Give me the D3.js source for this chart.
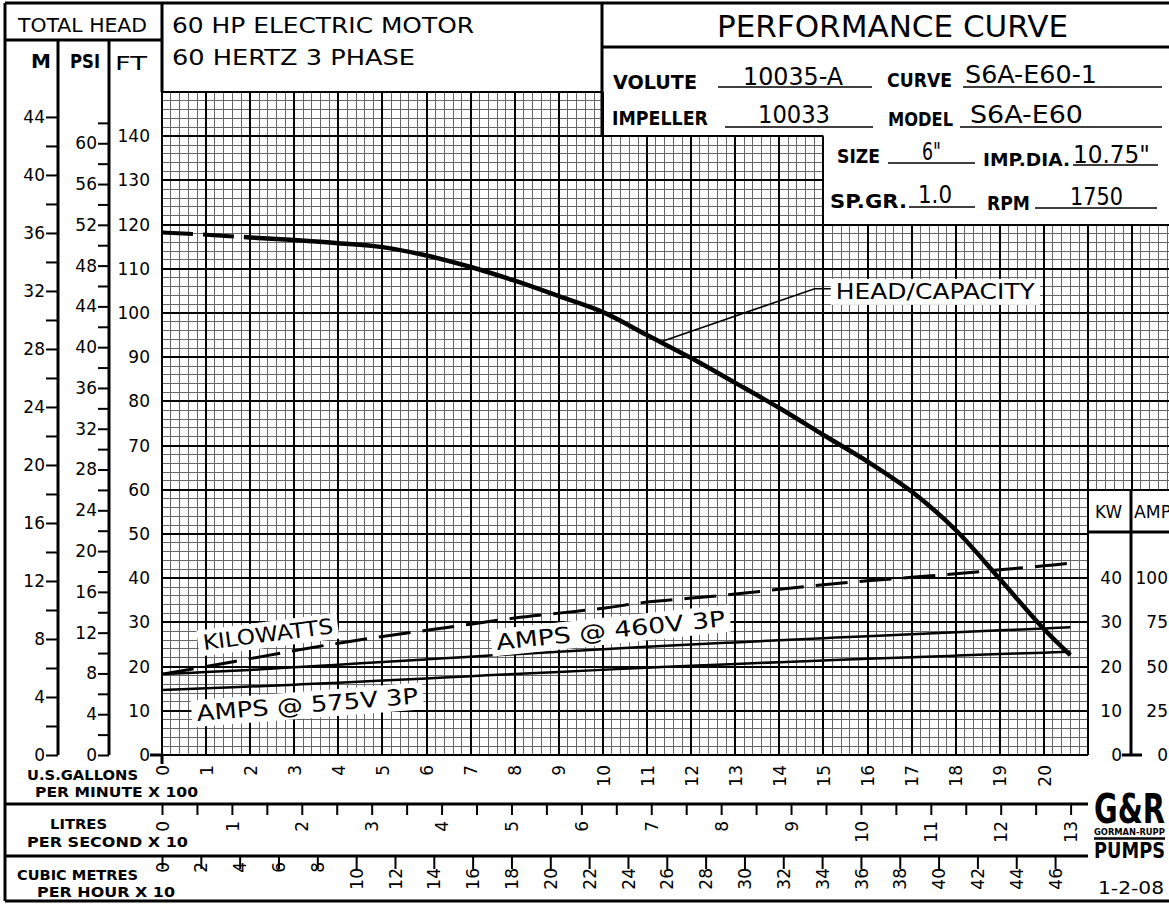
<!DOCTYPE html>
<html>
<head>
<meta charset="utf-8">
<script src="https://cdn.jsdelivr.net/npm/d3@7"></script>
<style>
body { margin: 0; background: #fff; }
text { font-family: "DejaVu Sans", sans-serif; fill: #000; }
</style>
</head>
<body>
<div id="chart"></div>
<script>
// page size
var svgWidth = 1169;
var svgHeight = 905;

// ---- data ----
// flow in hundreds of US gallons per minute
var flow = [0, 1, 2, 3, 4, 5, 6, 7, 8, 9, 10, 11, 12, 13, 14, 15, 16, 17, 18, 19, 20, 20.6];
// total head, feet
var headFt = [118.2, 117.7, 117.1, 116.5, 115.8, 114.9, 113.0, 110.4, 107.3, 103.8, 100.2,
              95.0, 89.8, 84.2, 78.5, 72.4, 66.4, 59.6, 50.9, 39.8, 28.5, 22.6];
// kilowatts
var kw = [18.3, 20.0, 21.8, 23.6, 25.3, 26.8, 28.2, 29.6, 31.0, 32.1, 33.2,
          34.6, 35.5, 36.4, 37.5, 38.5, 39.4, 40.2, 41.0, 41.9, 42.8, 43.4];
// amps
var amps460 = [45.8, 46.9, 48.1, 49.6, 51.1, 52.6, 54.1, 55.6, 57.0, 58.4, 59.8,
               61.2, 62.5, 63.7, 64.9, 66.1, 67.2, 68.3, 69.4, 70.5, 71.6, 72.3];
var amps575 = [36.8, 37.7, 38.7, 39.8, 40.9, 42.1, 43.3, 44.6, 45.8, 47.0, 48.2,
               49.4, 50.5, 51.5, 52.5, 53.5, 54.4, 55.3, 56.2, 57.1, 57.9, 58.4];

// tick values
var mTicks = d3.range(0, 45, 2);
var psiTicks = d3.range(0, 63, 2);
var ftTicks = d3.range(0, 141, 10);
var kwTicks = [0, 10, 20, 30, 40];
var ampTicks = [0, 25, 50, 75, 100];
var gpmTicks = d3.range(0, 21, 1);
var lpsTicks = d3.range(0, 13.01, 0.5);
var cmhTicks = d3.range(0, 47, 2);

// grid blocks [flow from, flow to, ft from, ft to]
var gridBlocks = [[0, 10, 0, 150], [10, 15, 0, 140], [15, 21, 0, 120], [21, 23, 60, 120]];

// ---- scales ----
var xFlow = d3.scaleLinear().domain([0, 21]).range([162, 1088]);
var yFt = d3.scaleLinear().domain([0, 150]).range([755, 92]);
var yM = d3.scaleLinear().domain([0, 150 / 3.2808]).range([755, 92]);
var yPsi = d3.scaleLinear().domain([0, 150 / 2.3067]).range([755, 92]);
var yKw = d3.scaleLinear().domain([0, 150]).range([755, 92]);
var yAmp = d3.scaleLinear().domain([0, 375]).range([755, 92]);
var xLps = d3.scaleLinear().domain([0, 2100 / 158.503]).range([162, 1088]);
var xCmh = d3.scaleLinear().domain([0, 2100 / 44.029]).range([162, 1088]);

var svg = d3.select("#chart").append("svg")
    .attr("width", svgWidth).attr("height", svgHeight);
svg.append("rect").attr("width", svgWidth).attr("height", svgHeight).attr("fill", "#fff");

// ---- grid paper ----
var gridG = svg.append("g");
function snap(v, major) { return major ? Math.round(v) : Math.round(v - 0.5) + 0.5; }
function gridLines(major) {
    gridBlocks.forEach(function(b) {
        var x0 = xFlow(b[0]), x1 = Math.min(xFlow(b[1]), svgWidth + 2);
        var y0 = yFt(b[3]), y1 = yFt(b[2]);
        for (var i = Math.ceil(b[0] * 5); i <= b[1] * 5; i++) {
            if ((i % 5 === 0) !== major) continue;
            var x = snap(xFlow(i / 5), major);
            if (x > svgWidth + 2) continue;
            gridG.append("line").attr("x1", x).attr("x2", x).attr("y1", y0).attr("y2", y1)
                .attr("stroke", major ? "#000" : "#666").attr("stroke-width", major ? 2 : 1);
        }
        for (var f = b[2]; f <= b[3]; f += 2) {
            if ((f % 10 === 0) !== major) continue;
            var y = snap(yFt(f), major);
            gridG.append("line").attr("x1", x0).attr("x2", x1).attr("y1", y).attr("y2", y)
                .attr("stroke", major ? "#000" : "#666").attr("stroke-width", major ? 2 : 1);
        }
    });
}
gridLines(false);
gridLines(true);

// ---- frame lines ----
var frame = [
    [5, 3, 1169, 3], [5, 3, 5, 901], [5, 901, 1169, 901],
    [5, 40, 162, 40], [58, 40, 58, 755], [109, 40, 109, 755], [162, 3, 162, 92],
    [602, 3, 602, 136], [602, 47, 1169, 47],
    [5, 804, 1088, 804], [5, 856, 1088, 856],
    [1088, 532, 1169, 532], [1131, 490, 1131, 755], [1122, 755, 1142, 755],
    [150, 755, 162, 755], [162, 755, 162, 764]
];
svg.append("g").selectAll("line").data(frame).enter().append("line")
    .attr("x1", d => d[0]).attr("y1", d => d[1]).attr("x2", d => d[2]).attr("y2", d => d[3])
    .attr("stroke", "#000").attr("stroke-width", 3);

// ---- axes ----
function styleAxis(g, size) {
    g.select(".domain").remove();
    g.selectAll(".tick line").attr("stroke", "#000").attr("stroke-width", 2);
    g.selectAll("text").attr("font-size", size).attr("font-family", "DejaVu Sans").attr("fill", "#000");
    g.attr("font-family", null);
}
var every4 = d => (d % 4 === 0 ? d : "");

var mAxis = svg.append("g").attr("transform", "translate(58,0)")
    .call(d3.axisLeft(yM).tickValues(mTicks).tickSize(12).tickPadding(1).tickFormat(every4));
styleAxis(mAxis, 17);
var psiAxis = svg.append("g").attr("transform", "translate(109,0)")
    .call(d3.axisLeft(yPsi).tickValues(psiTicks).tickSize(11).tickPadding(1).tickFormat(every4));
styleAxis(psiAxis, 17);
var ftAxis = svg.append("g").attr("transform", "translate(162,0)")
    .call(d3.axisLeft(yFt).tickValues(ftTicks).tickSize(0).tickPadding(12));
styleAxis(ftAxis, 17);
var kwAxis = svg.append("g").attr("transform", "translate(1131,0)")
    .call(d3.axisLeft(yKw).tickValues(kwTicks).tickSize(0).tickPadding(9));
styleAxis(kwAxis, 17);
var ampAxis = svg.append("g").attr("transform", "translate(1169,0)")
    .call(d3.axisLeft(yAmp).tickValues(ampTicks).tickSize(0).tickPadding(1));
styleAxis(ampAxis, 17);

function rotateLabels(g, offset) {
    g.selectAll("text")
        .attr("transform", "rotate(-90)")
        .attr("y", 0).attr("dy", "0.36em")
        .attr("x", d => -offset(d))
        .style("text-anchor", "end");
}
var gpmAxis = svg.append("g").attr("transform", "translate(0,755)")
    .call(d3.axisBottom(xFlow).tickValues(gpmTicks).tickSize(0));
styleAxis(gpmAxis, 17);
rotateLabels(gpmAxis, d => 10);

var lpsAxis = svg.append("g").attr("transform", "translate(0,804)")
    .call(d3.axisBottom(xLps).tickValues(lpsTicks).tickSize(11)
        .tickFormat(d => (d % 1 === 0 ? d : "")));
styleAxis(lpsAxis, 17);
rotateLabels(lpsAxis, d => 17);

var cmhAxis = svg.append("g").attr("transform", "translate(0,856)")
    .call(d3.axisBottom(xCmh).tickValues(cmhTicks).tickSize(13));
styleAxis(cmhAxis, 17);
rotateLabels(cmhAxis, d => (d < 10 ? 6 : 12));

// ---- curves ----
var defs = svg.append("defs");
var splitX = xFlow(1.86);
defs.append("clipPath").attr("id", "clipDash").append("rect")
    .attr("x", 0).attr("y", 0).attr("width", splitX).attr("height", svgHeight);
defs.append("clipPath").attr("id", "clipSolid").append("rect")
    .attr("x", splitX).attr("y", 0).attr("width", svgWidth).attr("height", svgHeight);

function series(vals) { return flow.map((g, i) => ({ g: g, v: vals[i] })); }
var smooth = d3.curveCatmullRom.alpha(0.5);
var headLine = d3.line().x(d => xFlow(d.g)).y(d => yFt(d.v)).curve(smooth);
var kwLine = d3.line().x(d => xFlow(d.g)).y(d => yKw(d.v)).curve(smooth);
var ampLine = d3.line().x(d => xFlow(d.g)).y(d => yAmp(d.v)).curve(smooth);

svg.append("path").attr("d", headLine(series(headFt))).attr("clip-path", "url(#clipDash)")
    .attr("fill", "none").attr("stroke", "#000").attr("stroke-width", 4).attr("stroke-dasharray", "31,10");
svg.append("path").attr("d", headLine(series(headFt))).attr("clip-path", "url(#clipSolid)")
    .attr("fill", "none").attr("stroke", "#000").attr("stroke-width", 4.5);
svg.append("path").attr("d", kwLine(series(kw)))
    .attr("fill", "none").attr("stroke", "#000").attr("stroke-width", 3).attr("stroke-dasharray", "32,12");
svg.append("path").attr("d", ampLine(series(amps460)))
    .attr("fill", "none").attr("stroke", "#000").attr("stroke-width", 2.5);
svg.append("path").attr("d", ampLine(series(amps575)))
    .attr("fill", "none").attr("stroke", "#000").attr("stroke-width", 2.5);

// leader for HEAD/CAPACITY
var leadG = 11.3;
var leadFt = d3.scaleLinear().domain(flow).range(headFt)(leadG);
svg.append("polyline")
    .attr("points", [[xFlow(leadG), yFt(leadFt)], [xFlow(14.8), yFt(105.5)], [xFlow(15.3), yFt(105.5)]].join(" "))
    .attr("fill", "none").attr("stroke", "#000").attr("stroke-width", 1.6);

// curve labels with white boxes
function boxLabel(txt, g, ft, angle, size, len) {
    var grp = svg.append("g")
        .attr("transform", "translate(" + xFlow(g) + "," + yFt(ft) + ") rotate(" + angle + ")");
    var rect = grp.append("rect").attr("fill", "#fff");
    var t = grp.append("text").text(txt).attr("font-size", size)
        .attr("textLength", len).attr("lengthAdjust", "spacingAndGlyphs");
    var bb = t.node().getBBox();
    rect.attr("x", bb.x - 5).attr("y", bb.y - 1).attr("width", bb.width + 10).attr("height", bb.height + 2);
}
boxLabel("HEAD/CAPACITY", 15.28, 103.2, 0, 21, 199);
boxLabel("KILOWATTS", 0.95, 23.75, -7.4, 21, 131);
boxLabel("AMPS @ 460V 3P", 7.6, 23.75, -6, 22, 230);
boxLabel("AMPS @ 575V 3P", 0.8, 7.7, -4.5, 22, 222);

// ---- header and legend texts ----
var texts = [
    { t: "TOTAL HEAD", x: 18, y: 32, s: 20, len: 129 },
    { t: "M", x: 31, y: 68, s: 20, b: 1 },
    { t: "PSI", x: 70, y: 68, s: 20, b: 1, len: 30 },
    { t: "FT", x: 115, y: 70, s: 20, len: 32 },
    { t: "60 HP ELECTRIC MOTOR", x: 172, y: 33, s: 22, len: 302 },
    { t: "60 HERTZ 3 PHASE", x: 172, y: 65, s: 22, len: 243 },
    { t: "PERFORMANCE CURVE", x: 717, y: 37, s: 30, len: 351 },
    { t: "VOLUTE", x: 613, y: 89, s: 19, b: 1, len: 84 },
    { t: "10035-A", x: 743, y: 85, s: 24, len: 100 },
    { t: "CURVE", x: 887, y: 87, s: 19, b: 1, len: 65 },
    { t: "S6A-E60-1", x: 965, y: 83, s: 24, len: 132 },
    { t: "IMPELLER", x: 612, y: 125, s: 19, b: 1, len: 96 },
    { t: "10033", x: 758, y: 123, s: 24, len: 72 },
    { t: "MODEL", x: 888, y: 126, s: 19, b: 1, len: 65 },
    { t: "S6A-E60", x: 970, y: 123, s: 24, len: 113 },
    { t: "SIZE", x: 837, y: 163, s: 19, b: 1, len: 43 },
    { t: "6\"", x: 922, y: 160, s: 24, len: 19 },
    { t: "IMP.DIA.", x: 983, y: 166, s: 17, b: 1, len: 87 },
    { t: "10.75\"", x: 1073, y: 163, s: 24, len: 77 },
    { t: "SP.GR.", x: 830, y: 208, s: 19, b: 1, len: 77 },
    { t: "1.0", x: 918, y: 203, s: 24, len: 34 },
    { t: "RPM", x: 987, y: 210, s: 19, b: 1, len: 43 },
    { t: "1750", x: 1070, y: 205, s: 24, len: 53 },
    { t: "KW", x: 1095, y: 518, s: 18, len: 27 },
    { t: "AMPS", x: 1134, y: 518, s: 18, len: 48 },
    { t: "U.S.GALLONS", x: 27, y: 780, s: 14, b: 1, len: 111 },
    { t: "PER MINUTE X 100", x: 35, y: 797, s: 14, b: 1, len: 163 },
    { t: "LITRES", x: 50, y: 829, s: 14, b: 1, len: 57 },
    { t: "PER SECOND X 10", x: 27, y: 847, s: 14, b: 1, len: 161 },
    { t: "CUBIC METRES", x: 17, y: 880, s: 14, b: 1, len: 121 },
    { t: "PER HOUR X 10", x: 37, y: 897, s: 14, b: 1, len: 138 },
    { t: "1-2-08", x: 1098, y: 894, s: 17, len: 66 }
];
var tg = svg.append("g");
texts.forEach(function(d) {
    var t = tg.append("text").attr("x", d.x).attr("y", d.y).text(d.t)
        .attr("font-size", d.s).attr("font-weight", d.b ? "bold" : "normal");
    if (d.len) t.attr("textLength", d.len).attr("lengthAdjust", "spacingAndGlyphs");
});

// logo: squeeze each word horizontally into the same width
var logo = [
    { t: "G&R", y: 823, s: 40 },
    { t: "GORMAN-RUPP", y: 835, s: 9 },
    { t: "PUMPS", y: 858, s: 22 }
];
logo.forEach(function(d) {
    var grp = tg.append("g");
    var t = grp.append("text").text(d.t).attr("font-size", d.s).attr("font-weight", "bold");
    var w = t.node().getComputedTextLength();
    grp.attr("transform", "translate(1094," + d.y + ") scale(" + (71 / w) + ",1)");
});

// underlines of the title block
var underlines = [[718, 872, 87], [963, 1162, 87], [725, 873, 127], [960, 1162, 127],
                  [888, 975, 163], [1073, 1158, 165], [909, 975, 207], [1035, 1157, 208],
                  [1094, 1165, 838.5]];
svg.append("g").selectAll("line").data(underlines).enter().append("line")
    .attr("x1", d => d[0]).attr("x2", d => d[1]).attr("y1", d => d[2]).attr("y2", d => d[2])
    .attr("stroke", "#000").attr("stroke-width", (d, i) => (i === 8 ? 2.5 : 1.3));
</script>
</body>
</html>
